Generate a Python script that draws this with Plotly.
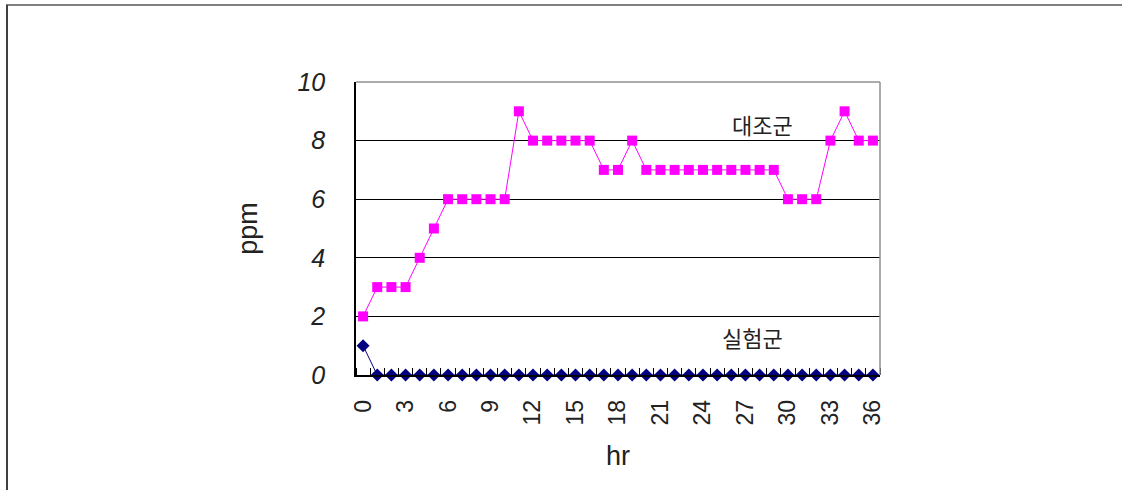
import plotly.graph_objects as go

hours = list(range(37))
control = [2, 3, 3, 3, 4, 5, 6, 6, 6, 6, 6, 9, 8, 8, 8, 8, 8, 7, 7, 8,
           7, 7, 7, 7, 7, 7, 7, 7, 7, 7, 6, 6, 6, 8, 9, 8, 8]
experiment = [1] + [0] * 36
x_tick_vals = list(range(0, 37, 3))
y_tick_vals = [0, 2, 4, 6, 8, 10]

W, H = 1122, 490
ML, MR, MT, MB = 356, 242, 82, 115
PW, PH = W - ML - MR, H - MT - MB

def px(xp):
    return (xp - ML) / PW

def py(yp):
    return (H - MB - yp) / PH

fig = go.Figure()
fig.add_trace(go.Scatter(
    x=hours, y=control, mode="lines+markers", name="대조군",
    line=dict(color="#FF00FF", width=1),
    marker=dict(symbol="square", size=10, color="#FF00FF"),
    cliponaxis=False,
))
fig.add_trace(go.Scatter(
    x=hours, y=experiment, mode="lines+markers", name="실험군",
    line=dict(color="#000080", width=1),
    marker=dict(symbol="diamond", size=10, color="#000080"),
    cliponaxis=False,
))

fig.add_annotation(x=28.2, y=8.55, text="대조군", showarrow=False,
                   font=dict(family="Noto Sans CJK KR", size=22, color="#222"))
fig.add_annotation(x=27.5, y=1.3, text="실험군", showarrow=False,
                   font=dict(family="Noto Sans CJK KR", size=22, color="#222"))

# plot frame (top/right grey)
fig.add_shape(type="line", xref="paper", yref="paper", x0=0, x1=1, y0=1, y1=1,
              line=dict(color="#909090", width=1.5))
fig.add_shape(type="line", xref="paper", yref="paper", x0=1, x1=1, y0=0, y1=1,
              line=dict(color="#909090", width=1.5))
# outer chart frame
fig.add_shape(type="line", xref="paper", yref="paper", x0=px(6), x1=px(1122), y0=py(5), y1=py(5),
              line=dict(color="#808080", width=2))
fig.add_shape(type="line", xref="paper", yref="paper", x0=px(7), x1=px(7), y0=py(5), y1=py(490),
              line=dict(color="#404040", width=2))

fig.update_layout(
    width=W, height=H,
    margin=dict(l=ML, r=MR, t=MT, b=MB),
    paper_bgcolor="white", plot_bgcolor="white",
    showlegend=False,
    font=dict(family="Liberation Sans", color="#222"),
    xaxis=dict(
        range=[-0.5, 36.5], tickvals=x_tick_vals, ticktext=[str(v) for v in x_tick_vals],
        tickangle=-90, ticks="", ticklabelstandoff=14,
        tickfont=dict(size=23, family="Liberation Sans"),
        showgrid=False, zeroline=False,
        showline=True, linecolor="black", linewidth=1.5,
        minor=dict(tickmode="linear", tick0=0.5, dtick=1, ticks="inside",
                   ticklen=7, tickcolor="black", tickwidth=1, showgrid=False),
        title=dict(text="hr", font=dict(size=27, family="Liberation Sans"), standoff=22),
    ),
    yaxis=dict(
        range=[0, 10], tickvals=y_tick_vals, ticks="", ticklabelstandoff=24,
        tickfont=dict(size=25, family="Liberation Sans", style="italic"),
        showgrid=True, gridcolor="black", gridwidth=1,
        zeroline=False, showline=True, linecolor="black", linewidth=1.5,
        title=dict(text="ppm", font=dict(size=27, family="Liberation Sans"), standoff=32),
    ),
)

fig.write_html("out.html")
